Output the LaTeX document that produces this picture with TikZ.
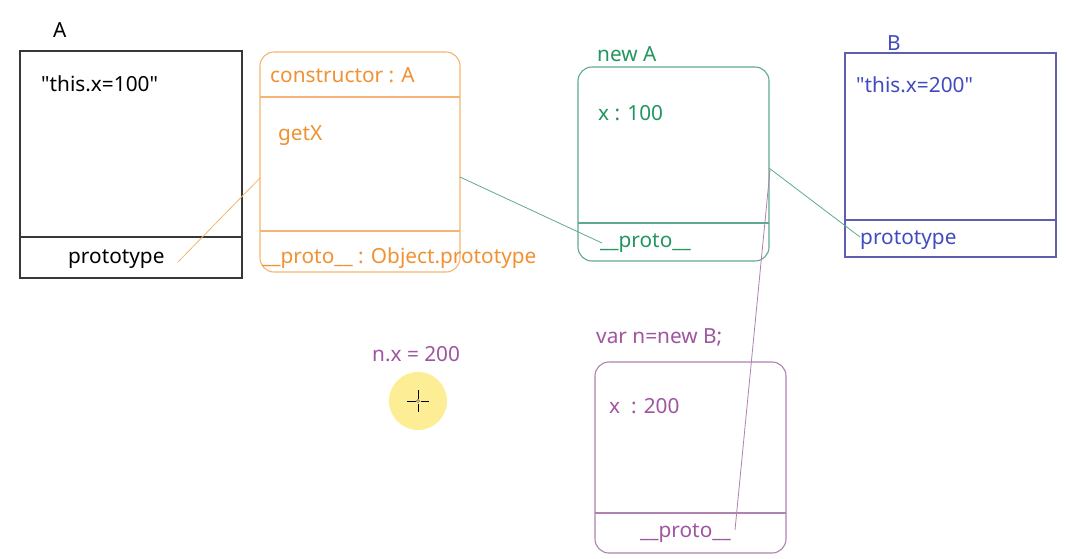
\documentclass[tikz,border=0pt]{standalone}
\usepackage{fontspec}
\setmainfont{Noto Sans}[Ligatures=TeXOff]
\definecolor{cdark}{RGB}{55,55,55}
\definecolor{corange}{RGB}{240,145,50}
\definecolor{corangeb}{RGB}{245,180,115}
\definecolor{cgreen}{RGB}{35,150,95}
\definecolor{cgreenb}{RGB}{95,170,140}
\definecolor{cblue}{RGB}{65,75,190}
\definecolor{cblueb}{RGB}{95,95,175}
\definecolor{cpurple}{RGB}{160,85,160}
\definecolor{cpurpleb}{RGB}{175,130,175}
\definecolor{cyel}{RGB}{253,238,150}
\begin{document}
\begin{tikzpicture}[x=1pt,y=-1pt,
  lbl/.style={inner sep=0pt,anchor=base west,font=\fontsize{20.8}{24}\selectfont},
  link/.style={line width=0.8pt}]
\useasboundingbox (0,0) rectangle (1066,558);
\fill[white] (0,0) rectangle (1066,558);
% Box A
\node[draw=cdark,line width=1.2pt,minimum width=222pt,minimum height=227pt,inner sep=0pt] (boxA) at (131,164.5) {};
\draw[cdark,line width=1.2pt] (20,237) -- (242,237);
\node[lbl,text=black] (labA) at (53,37) {A};
\node[lbl,text=black] (thisA) at (41,91) {"this.x=100"};
\node[lbl,text=black] (protA) at (68,263) {prototype};
% Orange box
\node[draw=corangeb,line width=1.1pt,rounded corners=14pt,minimum width=200pt,minimum height=220pt,inner sep=0pt] (boxO) at (360,162) {};
\draw[corangeb,line width=1.1pt] (260,97) -- (460,97);
\draw[corangeb,line width=1.1pt] (260,231) -- (460,231);
\node[lbl,text=corange] (consO) at (270,82) {constructor : A};
\node[lbl,text=corange] (getX) at (278,140) {getX};
\node[lbl,text=corange] (protoO) at (262,263) {\_\_proto\_\_ : Object.prototype};
% Green box
\node[draw=cgreenb,line width=1.1pt,rounded corners=14pt,minimum width=191pt,minimum height=194pt,inner sep=0pt] (boxG) at (673.5,164) {};
\draw[cgreenb,line width=1.1pt] (578,223) -- (769,223);
\node[lbl,text=cgreen] (newA) at (597,61) {new A};
\node[lbl,text=cgreen] (xG) at (598,120) {x : 100};
\node[lbl,text=cgreen] (protoG) at (600,247) {\_\_proto\_\_};
% Blue box
\node[draw=cblueb,line width=1.1pt,minimum width=211pt,minimum height=204pt,inner sep=0pt] (boxB) at (950.5,155) {};
\draw[cblueb,line width=1.1pt] (845,220) -- (1056,220);
\node[lbl,text=cblue] (labB) at (887,50) {B};
\node[lbl,text=cblue] (thisB) at (856,92) {"this.x=200"};
\node[lbl,text=cblue] (protB) at (860,244) {prototype};
% Purple box
\node[draw=cpurpleb,line width=1.1pt,rounded corners=14pt,minimum width=191pt,minimum height=191pt,inner sep=0pt] (boxP) at (690.5,457.5) {};
\draw[cpurpleb,line width=1.1pt] (595,513) -- (786,513);
\node[lbl,text=cpurple] (varn) at (596,343) {var n=new B;};
\node[lbl,text=cpurple] (xP) at (609,413) {x\ \ : 200};
\node[lbl,text=cpurple] (protoP) at (640,537) {\_\_proto\_\_};
\node[lbl,text=cpurple] (nx) at (372,361) {n.x = 200};
% cursor highlight
\fill[cyel] (418,401) circle (29pt);
\draw[black,line width=0.8pt] (407,401) -- (415.5,401) (420.5,401) -- (429,401)
  (418,390) -- (418,398.5) (418,403.5) -- (418,412);
\draw[black!70,line width=0.5pt] (418,401) circle (1.6pt);
% connectors
\coordinate (cA) at (178,262);
\coordinate (cOw) at (260,178);
\coordinate (cOe) at (460,177);
\coordinate (cG) at (602,243);
\coordinate (cGe) at (769,168);
\coordinate (cB) at (860,237);
\coordinate (cGe2) at (770,170);
\coordinate (cP) at (735,530);
\draw[link,corangeb] (cA) -- (cOw);
\draw[link,cgreenb] (cOe) -- (cG);
\draw[link,cgreenb] (cGe) -- (cB);
\draw[link,cpurpleb] (cP) -- (cGe2);
\end{tikzpicture}
\end{document}
